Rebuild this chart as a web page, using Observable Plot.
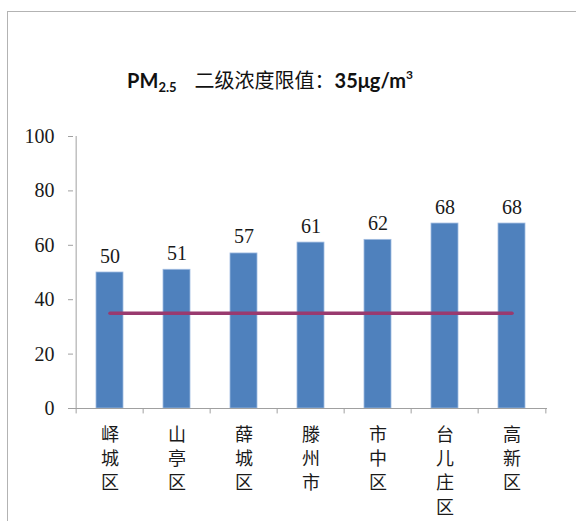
<!DOCTYPE html>
<html>
<head>
<meta charset="utf-8">
<script src="https://cdn.jsdelivr.net/npm/d3@7"></script>
<script src="https://cdn.jsdelivr.net/npm/@observablehq/plot@0.6"></script>
<style>
  html, body { margin: 0; padding: 0; background: #fff; }
  #wrap { position: relative; width: 576px; height: 521px; overflow: hidden; background: #fff; }
  #border { position: absolute; left: 7px; top: 11px; width: 700px; height: 700px; border: 1px solid #b3b3b3; box-sizing: border-box; }
  #title { position: absolute; left: 0; width: 540px; top: 65px; text-align: center; white-space: nowrap; color: #111; font-size: 20px; line-height: 30px; }
  #title .lat { font-family: Lato, "Liberation Sans", sans-serif; font-weight: bold; }
  #title .cjk { font-family: "Noto Sans CJK SC", sans-serif; font-weight: 400; margin-left: 18px; }
  #title sub { font-size: 13px; vertical-align: -4px; line-height: 0; }
  #title sup { font-size: 12px; vertical-align: 9px; line-height: 0; }
  #chart { position: absolute; left: 0; top: 0; }
</style>
</head>
<body>
<div id="wrap">
  <div id="border"></div>
  <div id="title"><span class="lat">PM<sub>2.5</sub></span><span class="cjk">二级浓度限值：</span><span class="lat">35μg/m<sup>3</sup></span></div>
  <div id="chart"></div>
</div>
<script>
const districts = ["峄城区", "山亭区", "薛城区", "滕州市", "市中区", "台儿庄区", "高新区"];
const pm25 = [50, 51, 57, 61, 62, 68, 68];
const limitValue = 35;
const yTicks = [0, 20, 40, 60, 80, 100];

const data = districts.map((d, i) => ({district: d, value: pm25[i]}));
const limitLine = districts.map(d => ({district: d, value: limitValue}));

const W = 576, H = 521;
const mL = 73, mR = 29, mT = 136, mB = 113;
const step = (W - mL - mR) / districts.length;

const serif = "'Liberation Serif', 'Noto Sans CJK SC', serif";
const axisGray = "#a0a0a0";

const chart = Plot.plot({
  width: W,
  height: H,
  marginLeft: mL,
  marginRight: mR,
  marginTop: mT,
  marginBottom: mB,
  style: {background: "transparent", fontFamily: serif, color: "#1a1a1a"},
  x: {domain: districts, paddingInner: 0.6, paddingOuter: 0.3, axis: null},
  y: {domain: [0, 100], axis: null},
  marks: [
    Plot.axisY({
      ticks: yTicks,
      tickSize: 5,
      tickPadding: 14,
      fontSize: 20,
      stroke: axisGray,
      label: null,
      tickFormat: d => String(d),
      fill: "#1a1a1a"
    }),
    Plot.ruleX([districts[0]], {x: d => d, dx: -step / 2, y1: 0, y2: 100, stroke: axisGray}),
    Plot.barY(data, {
      x: "district",
      y: "value",
      fill: "#4F81BD",
      stroke: "#9fbbe0",
      strokeWidth: 0.8
    }),
    Plot.ruleY([0], {stroke: axisGray, strokeWidth: 1}),
    Plot.ruleX(districts, {x: d => d, dx: -step / 2, y1: 0, y2: -2, stroke: axisGray}),
    Plot.ruleX([districts[districts.length - 1]], {x: d => d, dx: step / 2, y1: 0, y2: -2, stroke: axisGray}),
    Plot.lineY(limitLine, {
      x: "district",
      y: "value",
      stroke: "#993a6f",
      strokeWidth: 3.5,
      strokeLinecap: "round"
    }),
    Plot.text(data, {
      x: "district",
      y: "value",
      text: d => String(d.value),
      lineAnchor: "bottom",
      dy: -10,
      fontSize: 20,
      fill: "#1a1a1a"
    }),
    Plot.text(districts, {
      x: d => d,
      frameAnchor: "bottom",
      lineAnchor: "top",
      dy: 15,
      text: d => d.split("").join("\n"),
      lineHeight: 1.35,
      fontSize: 18,
      fontFamily: "'Noto Sans CJK SC', sans-serif",
      fill: "#1a1a1a"
    })
  ]
});

document.getElementById("chart").appendChild(chart);
</script>
</body>
</html>
